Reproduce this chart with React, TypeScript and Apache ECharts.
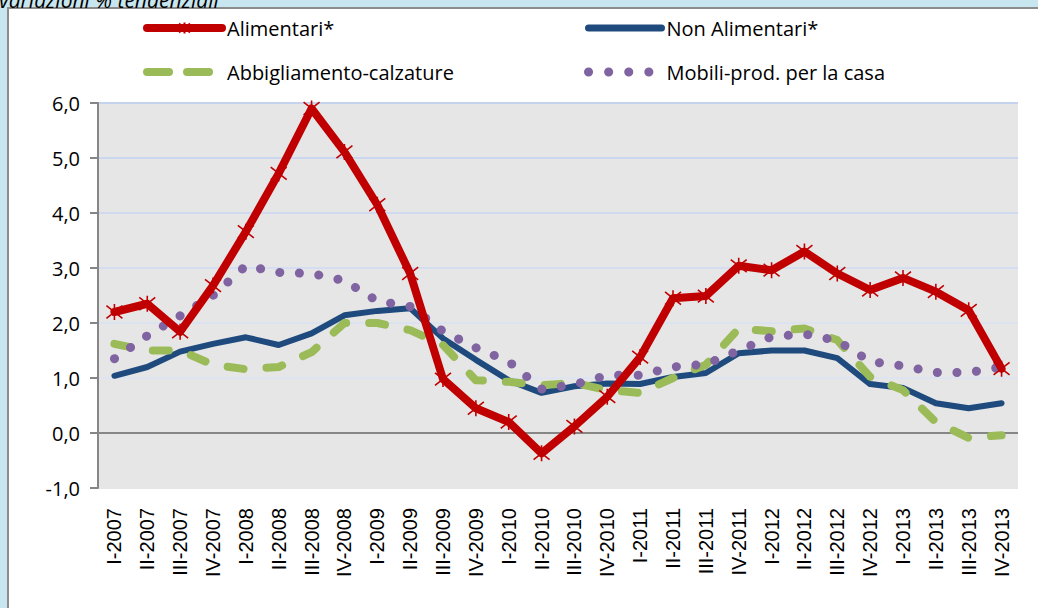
import React, { useEffect, useRef } from "react";
import * as echarts from "echarts";

const categories: string[] = [
  "I-2007", "II-2007", "III-2007", "IV-2007",
  "I-2008", "II-2008", "III-2008", "IV-2008",
  "I-2009", "II-2009", "III-2009", "IV-2009",
  "I-2010", "II-2010", "III-2010", "IV-2010",
  "I-2011", "II-2011", "III-2011", "IV-2011",
  "I-2012", "II-2012", "III-2012", "IV-2012",
  "I-2013", "II-2013", "III-2013", "IV-2013",
];

const alimentari: number[] = [
  2.2, 2.35, 1.84, 2.68, 3.66, 4.72, 5.9, 5.11, 4.15, 2.9, 0.98, 0.45, 0.2, -0.37,
  0.12, 0.66, 1.38, 2.45, 2.49, 3.04, 2.96, 3.3, 2.9, 2.6, 2.82, 2.57, 2.23, 1.17,
];
const nonAlimentari: number[] = [
  1.04, 1.2, 1.48, 1.62, 1.74, 1.6, 1.81, 2.14, 2.22, 2.27, 1.72, 1.33, 0.96, 0.73,
  0.85, 0.9, 0.89, 1.02, 1.09, 1.45, 1.5, 1.5, 1.36, 0.89, 0.82, 0.54, 0.45, 0.54,
];
const abbigliamento: number[] = [
  1.62, 1.5, 1.5, 1.24, 1.16, 1.2, 1.47, 2.0, 2.0, 1.87, 1.6, 0.96, 0.93, 0.87,
  0.91, 0.78, 0.73, 1.0, 1.24, 1.9, 1.85, 1.9, 1.69, 1.02, 0.78, 0.2, -0.09, -0.04,
];
const mobili: number[] = [
  1.35, 1.77, 2.13, 2.5, 3.04, 2.92, 2.9, 2.77, 2.4, 2.3, 1.85, 1.55, 1.3, 0.8,
  0.88, 1.05, 1.05, 1.2, 1.25, 1.5, 1.75, 1.8, 1.68, 1.3, 1.22, 1.1, 1.1, 1.2,
];

const seriesNames = {
  a: "Alimentari*",
  b: "Non Alimentari*",
  c: "Abbigliamento-calzature",
  d: "Mobili-prod. per la casa",
};

const titleText = "variazioni % tendenziali";

const RED = "#c00000";
const BLUE = "#1f4a7d";
const GREEN = "#9bbb59";
const PURPLE = "#8064a2";
const FONT = "'Open Sans', Lato, sans-serif";

export default function App() {
  const ref = useRef<HTMLDivElement>(null);

  useEffect(() => {
    document.body.style.margin = "0";
    if (!ref.current) return;
    const chart = echarts.init(ref.current, undefined, { renderer: "svg" });

    const legendText = { fontSize: 20, fontFamily: FONT, color: "#000", lineHeight: 24 };
    const hidden = { opacity: 0 };

    chart.setOption({
      animation: false,
      graphic: [
        {
          type: "text",
          x: -1,
          y: 10,
          style: {
            text: titleText,
            font: "italic 21px " + FONT,
            fill: "#000",
            textVerticalAlign: "bottom",
          },
        },
      ],
      legend: [
        {
          left: 143,
          top: 16,
          padding: 0,
          orient: "vertical",
          itemGap: 20,
          itemWidth: 75,
          itemHeight: 14,
          itemTextGap: 4,
          textStyle: legendText,
          data: [
            { name: seriesNames.a, lineStyle: { width: 8, color: RED, cap: "round" } },
            {
              name: seriesNames.c,
              itemStyle: hidden,
              lineStyle: { type: [22, 18], width: 8, cap: "round", color: GREEN },
            },
          ],
        },
        {
          left: 584,
          top: 16,
          padding: 0,
          orient: "vertical",
          itemGap: 20,
          itemWidth: 73,
          itemHeight: 14,
          itemTextGap: 4,
          textStyle: legendText,
          data: [
            {
              name: seriesNames.b,
              itemStyle: hidden,
              lineStyle: { width: 7, cap: "round", color: BLUE },
            },
            {
              name: seriesNames.d,
              itemStyle: hidden,
              lineStyle: { type: [0.1, 20], width: 9, cap: "round", color: PURPLE },
            },
          ],
        },
      ],
      grid: {
        left: 98,
        right: 20,
        top: 103,
        bottom: 120,
        show: true,
        backgroundColor: "#e6e6e6",
        borderWidth: 0,
      },
      xAxis: {
        type: "category",
        data: categories,
        boundaryGap: true,
        axisLine: { show: false, onZero: false },
        axisTick: { show: false },
        axisLabel: {
          rotate: 90,
          margin: 20,
          fontSize: 20,
          fontFamily: "'Liberation Sans', Arial, sans-serif",
          color: "#000",
          interval: 0,
        },
        splitLine: { show: false },
      },
      yAxis: {
        type: "value",
        min: -1,
        max: 6,
        interval: 1,
        axisLine: { show: true, lineStyle: { color: "#868686", width: 2 } },
        axisTick: { show: true, length: 8, lineStyle: { color: "#868686", width: 2 } },
        axisLabel: {
          margin: 18,
          fontSize: 20,
          fontFamily: FONT,
          color: "#000",
          formatter: (v: number) => v.toFixed(1).replace(".", ","),
        },
        splitLine: {
          show: true,
          lineStyle: {
            width: 2,
            color: [
              "#e6e6e6",
              "#868686",
              "#dfe5f0",
              "#dbe3f0",
              "#d5def0",
              "#cfdaef",
              "#cad7ef",
              "#c5d3ee",
            ],
          },
        },
      },
      series: [
        {
          name: seriesNames.b,
          type: "line",
          data: nonAlimentari,
          z: 2,
          symbol: "none",
          color: BLUE,
          lineStyle: { color: BLUE, width: 6, join: "round", cap: "round" },
        },
        {
          name: seriesNames.c,
          type: "line",
          data: abbigliamento,
          z: 3,
          symbol: "none",
          color: GREEN,
          lineStyle: { color: GREEN, width: 8, type: [16, 23], cap: "round", join: "round" },
        },
        {
          name: seriesNames.d,
          type: "line",
          data: mobili,
          z: 4,
          symbol: "none",
          color: PURPLE,
          lineStyle: { color: PURPLE, width: 9, type: [0.1, 19.5], cap: "round", join: "round" },
        },
        {
          name: seriesNames.a,
          type: "line",
          data: alimentari,
          z: 5,
          symbol: "path://M7,0 L7,14 M0,1.5 L14,12.5 M0,12.5 L14,1.5",
          symbolSize: 16,
          showSymbol: true,
          color: RED,
          itemStyle: { color: "none", borderColor: RED, borderWidth: 1.6 },
          lineStyle: { color: RED, width: 8, join: "round", cap: "round" },
        },
      ],
    });

    return () => {
      chart.dispose();
    };
  }, []);

  return (
    <div style={{ position: "relative", width: 1038, height: 608, background: "#c8e6ef", overflow: "hidden" }}>
      <div
        style={{
          position: "absolute",
          left: 7,
          top: 7,
          width: 1040,
          height: 610,
          background: "#ffffff",
          border: "2px solid #8c8c8c",
          boxSizing: "border-box",
        }}
      />
      <div ref={ref} style={{ position: "absolute", left: 0, top: 0, width: 1038, height: 608 }} />
    </div>
  );
}
